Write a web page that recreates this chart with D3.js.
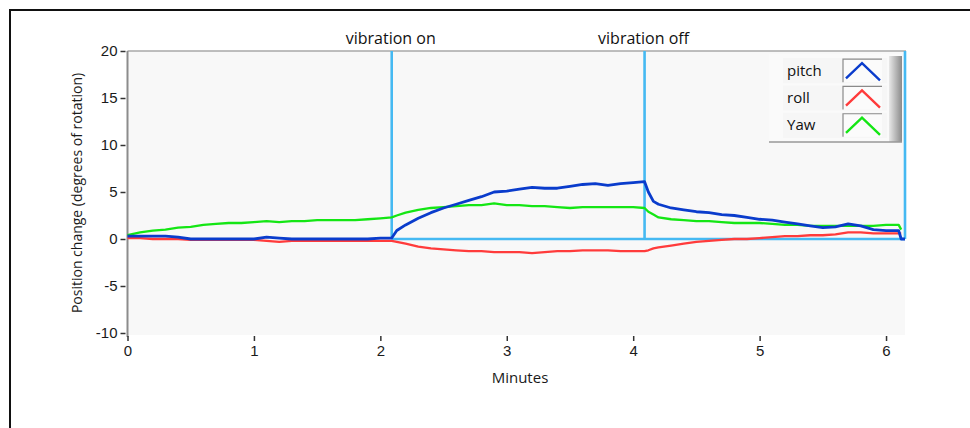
<!DOCTYPE html>
<html>
<head>
<meta charset="utf-8">
<script src="https://cdn.jsdelivr.net/npm/d3@7"></script>
<style>
  body { margin: 0; background: #fff; }
  svg { display: block; font-family: "Open Sans", "DejaVu Sans", sans-serif; }
  .axis path { display: none; }
  .axis line { stroke: #333; stroke-width: 1.5; }
  .axis text { font-size: 15px; fill: #1a1a1a; }
</style>
</head>
<body>
<div id="chart"></div>
<script>

// time in minutes
let minutes = [0, 0.1, 0.2, 0.3, 0.4, 0.5, 0.6, 0.7, 0.8, 0.9, 1.0, 1.1, 1.2, 1.3, 1.4, 1.5, 1.6, 1.7, 1.8, 1.9, 2.0,
    2.09, 2.13, 2.2, 2.3, 2.4, 2.5, 2.6, 2.7, 2.8, 2.9, 3.0, 3.1, 3.2, 3.3, 3.4, 3.5, 3.6, 3.7, 3.8, 3.9, 4.0,
    4.09, 4.12, 4.16, 4.2, 4.3, 4.4, 4.5, 4.6, 4.7, 4.8, 4.9, 5.0, 5.1, 5.2, 5.3, 5.4, 5.5, 5.6, 5.7, 5.8, 5.9, 6.0, 6.1,
    6.12, 6.15];

let pitch = [0.3, 0.3, 0.3, 0.3, 0.2, 0.0, 0.0, 0.0, 0.0, 0.0, 0.0, 0.2, 0.1, 0.0, 0.0, 0.0, 0.0, 0.0, 0.0, 0.0, 0.1,
    0.1, 0.9, 1.5, 2.2, 2.8, 3.3, 3.7, 4.1, 4.5, 5.0, 5.1, 5.3, 5.5, 5.4, 5.4, 5.6, 5.8, 5.9, 5.7, 5.9, 6.0,
    6.1, 5.0, 4.0, 3.7, 3.3, 3.1, 2.9, 2.8, 2.6, 2.5, 2.3, 2.1, 2.0, 1.8, 1.6, 1.4, 1.2, 1.3, 1.6, 1.4, 1.0, 0.9, 0.9,
    0.0, 0.0];

let roll = [0.1, 0.1, 0.0, 0.0, 0.0, -0.1, -0.1, -0.1, -0.1, -0.1, -0.1, -0.2, -0.3, -0.2, -0.2, -0.2, -0.2, -0.2, -0.2, -0.2, -0.2,
    -0.2, -0.3, -0.5, -0.8, -1.0, -1.1, -1.2, -1.3, -1.3, -1.4, -1.4, -1.4, -1.5, -1.4, -1.3, -1.3, -1.2, -1.2, -1.2, -1.3, -1.3,
    -1.3, -1.2, -1.0, -0.9, -0.7, -0.5, -0.3, -0.2, -0.1, 0.0, 0.0, 0.1, 0.2, 0.3, 0.3, 0.4, 0.4, 0.5, 0.7, 0.7, 0.6, 0.6, 0.6,
    0.6, null];

let yaw = [0.4, 0.7, 0.9, 1.0, 1.2, 1.3, 1.5, 1.6, 1.7, 1.7, 1.8, 1.9, 1.8, 1.9, 1.9, 2.0, 2.0, 2.0, 2.0, 2.1, 2.2,
    2.3, 2.5, 2.8, 3.1, 3.3, 3.4, 3.5, 3.6, 3.6, 3.8, 3.6, 3.6, 3.5, 3.5, 3.4, 3.3, 3.4, 3.4, 3.4, 3.4, 3.4,
    3.3, 2.9, 2.6, 2.3, 2.1, 2.0, 1.9, 1.9, 1.8, 1.7, 1.7, 1.7, 1.6, 1.5, 1.5, 1.4, 1.4, 1.4, 1.4, 1.4, 1.4, 1.5, 1.5,
    1.0, null];

let seriesNames = ["pitch", "roll", "Yaw"];
let seriesColors = ["#0a3ccc", "#ff3b3b", "#14e614"];
let cursorTimes = [2.09, 4.09, 6.15];
let cursorLabels = ["vibration on", "vibration off", ""];
let xTicks = [0, 1, 2, 3, 4, 5, 6];
let yTicks = [-10, -5, 0, 5, 10, 15, 20];

let width = 970, height = 428;
let plot = {left: 127.5, top: 51, right: 905, bottom: 333};

let svg = d3.select("#chart").append("svg")
    .attr("width", width)
    .attr("height", height);

// outer frame (cut off at right and bottom)
svg.append("path")
    .attr("d", "M10,430 V10 H975")
    .attr("fill", "none")
    .attr("stroke", "#111")
    .attr("stroke-width", 2);

let x = d3.scaleLinear().domain([0, 6.15]).range([plot.left, plot.right]);
let y = d3.scaleLinear().domain([-10, 20]).range([plot.bottom, plot.top]);

// plot background
svg.append("rect")
    .attr("x", plot.left)
    .attr("y", plot.top)
    .attr("width", plot.right - plot.left)
    .attr("height", plot.bottom - plot.top + 2)
    .attr("fill", "#f8f8f8");
svg.append("line")
    .attr("x1", plot.left).attr("x2", plot.right + 1)
    .attr("y1", plot.top).attr("y2", plot.top)
    .attr("stroke", "#a8a8a8").attr("stroke-width", 1.5);
svg.append("line")
    .attr("x1", plot.left).attr("x2", plot.left)
    .attr("y1", plot.top).attr("y2", plot.bottom + 4)
    .attr("stroke", "#8c8c8c").attr("stroke-width", 2);

// axes
svg.append("g")
    .attr("class", "axis")
    .attr("transform", "translate(" + (plot.left - 2) + ",0)")
    .call(d3.axisLeft(y).tickValues(yTicks).tickSize(5).tickPadding(3)
        .tickFormat(function(d){ return String(d); }));

svg.append("g")
    .attr("class", "axis")
    .attr("transform", "translate(0," + (plot.bottom + 3) + ")")
    .call(d3.axisBottom(x).tickValues(xTicks).tickSize(5).tickPadding(4)
        .tickFormat(function(d){ return String(d); }));

svg.append("text")
    .attr("x", 520)
    .attr("y", 383)
    .attr("text-anchor", "middle")
    .style("font-size", "15px")
    .style("fill", "#1a1a1a")
    .text("Minutes");

svg.append("text")
    .attr("transform", "translate(82,193) rotate(-90)")
    .attr("text-anchor", "middle")
    .style("font-size", "14px")
    .style("fill", "#1a1a1a")
    .text("Position change (degrees of rotation)");

// cursors
let cursorColor = "#45b9f2";
svg.append("line")
    .attr("x1", x(cursorTimes[0])).attr("x2", x(cursorTimes[2]))
    .attr("y1", y(0)).attr("y2", y(0))
    .attr("stroke", cursorColor).attr("stroke-width", 2.4);
cursorTimes.forEach(function(t, i){
    svg.append("line")
        .attr("x1", x(t)).attr("x2", x(t))
        .attr("y1", plot.top).attr("y2", y(0))
        .attr("stroke", cursorColor).attr("stroke-width", 2.6);
    if(cursorLabels[i] != "")
        svg.append("text")
            .attr("x", x(t) - 1)
            .attr("y", 44)
            .attr("text-anchor", "middle")
            .style("font-size", "16px")
            .style("fill", "#111")
            .text(cursorLabels[i]);
});

// data lines
let allSeries = [pitch, roll, yaw];
let drawOrder = [2, 1, 0];
drawOrder.forEach(function(k){
    let line = d3.line()
        .defined(function(d, i){ return allSeries[k][i] != null; })
        .x(function(d, i){ return x(minutes[i]); })
        .y(function(d, i){ return y(allSeries[k][i]); });
    svg.append("path")
        .datum(allSeries[k])
        .attr("d", line)
        .attr("fill", "none")
        .attr("stroke", seriesColors[k])
        .attr("stroke-width", k == 0 ? 2.8 : 2.3)
        .attr("stroke-linejoin", "round");
});

// legend
let lg = svg.append("g").attr("transform", "translate(769,54)");
let defs = svg.append("defs");
let grad = defs.append("linearGradient").attr("id", "lgshade");
grad.append("stop").attr("offset", "0%").attr("stop-color", "#e8e8e8");
grad.append("stop").attr("offset", "100%").attr("stop-color", "#8a8a8a");

lg.append("rect")
    .attr("x", 0).attr("y", 0)
    .attr("width", 133).attr("height", 88)
    .attr("fill", "#fafafa");
lg.append("rect")
    .attr("x", 120).attr("y", 2)
    .attr("width", 13).attr("height", 86)
    .attr("fill", "url(#lgshade)");
lg.append("line")
    .attr("x1", 0).attr("x2", 133)
    .attr("y1", 88).attr("y2", 88)
    .attr("stroke", "#999").attr("stroke-width", 1.5);

let rowY = d3.scaleBand().domain(seriesNames).range([2, 86]).padding(0.08);
seriesNames.forEach(function(name, i){
    let top = rowY(name);
    lg.append("rect")
        .attr("x", 14).attr("y", top)
        .attr("width", 104).attr("height", rowY.bandwidth())
        .attr("fill", "#f6f6f6");
    lg.append("text")
        .attr("x", 18)
        .attr("y", top + rowY.bandwidth() / 2 + 5)
        .style("font-size", "15px")
        .style("fill", "#111")
        .text(name);
    let bx = 74, bw = 39, by = top + 1, bh = rowY.bandwidth() - 2;
    lg.append("rect")
        .attr("x", bx).attr("y", by)
        .attr("width", bw).attr("height", bh)
        .attr("fill", "#fbfbfb");
    lg.append("path")
        .attr("d", "M" + (bx + bw) + "," + by + " H" + bx + " V" + (by + bh))
        .attr("fill", "none")
        .attr("stroke", "#8a8a8a").attr("stroke-width", 1.2);
    lg.append("path")
        .attr("d", "M" + (bx + 3) + "," + (by + bh - 4) + " L" + (bx + 19) + "," + (by + 4) + " L" + (bx + bw - 2) + "," + (by + bh - 2))
        .attr("fill", "none")
        .attr("stroke", seriesColors[i])
        .attr("stroke-width", 2.4);
});

</script>
</body>
</html>
